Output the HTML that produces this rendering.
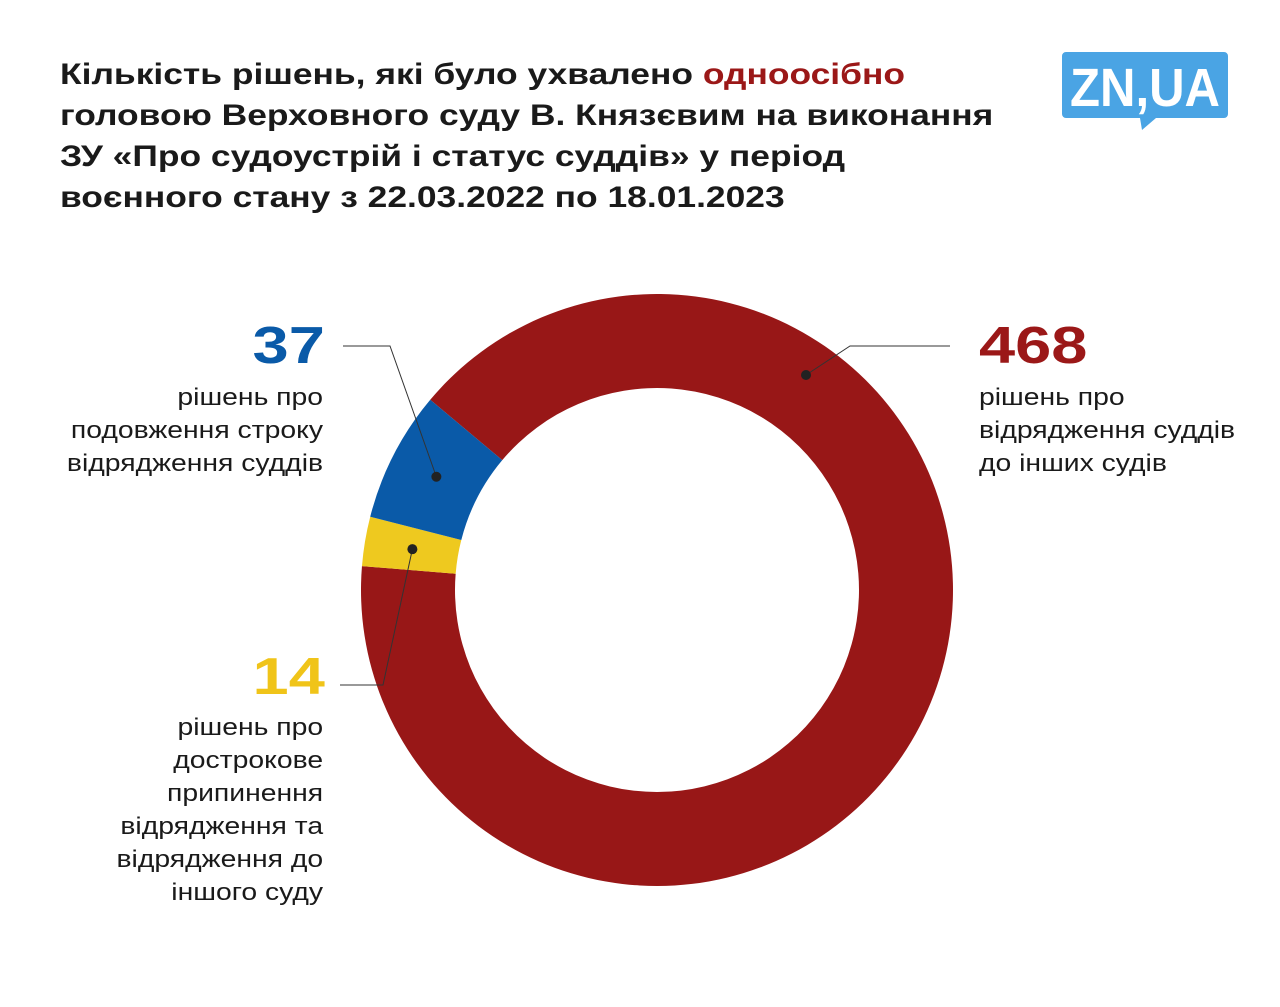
<!DOCTYPE html>
<html><head><meta charset="utf-8"><style>
body{margin:0;background:#fff;font-family:"Liberation Sans","DejaVu Sans",sans-serif;}
#wrap{position:relative;width:1280px;height:1007px;overflow:hidden;background:#fff}
.title{position:absolute;left:60px;top:54px;font-size:30px;font-weight:bold;line-height:41px;color:#1a1a1a;width:960px;transform:scaleX(1.18);transform-origin:left top;white-space:nowrap}
.num{position:absolute;font-size:52px;font-weight:bold;line-height:50px;white-space:nowrap}
.lbl{position:absolute;font-size:24px;line-height:33px;color:#1a1a1a;white-space:nowrap}
.r{transform-origin:right top}
.l{transform-origin:left top}
.num.r,.num.l{transform:scaleX(1.25)}
.lbl.r,.lbl.l{transform:scaleX(1.18)}
</style></head><body>
<div id="wrap">
<div class="title">Кількість рішень, які було ухвалено <span style="color:#9b1818">одноосібно</span><br>головою Верховного суду В. Князєвим на виконання<br>ЗУ «Про судоустрій і статус суддів» у період<br>воєнного стану з 22.03.2022 по 18.01.2023</div>
<svg style="position:absolute;left:1060px;top:50px" width="172" height="82">
<path d="M6 2H164a4 4 0 0 1 4 4V64a4 4 0 0 1-4 4H96L82 80L80 68H6a4 4 0 0 1-4-4V6a4 4 0 0 1 4-4z" fill="#4aa4e4"/>
<text x="85" y="56" text-anchor="middle" font-family="Liberation Sans, sans-serif" font-weight="bold" font-size="54" fill="#fff" textLength="150" lengthAdjust="spacingAndGlyphs">ZN,UA</text>
</svg>
<svg id="donut" style="position:absolute;left:0;top:0" width="1280" height="1007"></svg>
<div class="num r" style="right:955px;top:321px;color:#0a5aa8">37</div>
<div class="lbl r" style="right:957px;top:381px;text-align:right">рішень про<br>подовження строку<br>відрядження суддів</div>
<div class="num l" style="left:979px;top:321px;color:#9b1818">468</div>
<div class="lbl l" style="left:979px;top:381px">рішень про<br>відрядження суддів<br>до інших судів</div>
<div class="num r" style="right:955px;top:652px;color:#f0c419">14</div>
<div class="lbl r" style="right:957px;top:711px;text-align:right">рішень про<br>дострокове<br>припинення<br>відрядження та<br>відрядження до<br>іншого суду</div>
</div>
<script>
const categories=["secondment","termination","extension"];
const values=[468,14,37];
const colors=["#981717","#eec91f","#0a5aa8"];
const cx=657,cy=590,R=296,r=202,start=310;
const svg=document.getElementById('donut');
const NS="http://www.w3.org/2000/svg";
const total=values.reduce((a,b)=>a+b,0);
function pt(a,rad){const t=(a-90)*Math.PI/180;return [cx+rad*Math.cos(t),cy+rad*Math.sin(t)];}
let a=start;const mids=[];
values.forEach((v,i)=>{
 const sw=v/total*360,a2=a+sw,lg=sw>180?1:0;
 const p1=pt(a,R),p2=pt(a2,R),p3=pt(a2,r),p4=pt(a,r);
 const p=document.createElementNS(NS,'path');
 p.setAttribute('d',`M${p1}A${R} ${R} 0 ${lg} 1 ${p2}L${p3}A${r} ${r} 0 ${lg} 0 ${p4}Z`);
 p.setAttribute('fill',colors[i]);
 
 
 svg.appendChild(p);mids.push(a+sw/2);a=a2;});
function lead(pts,dot,name){
 const pl=document.createElementNS(NS,'polyline');
 pl.setAttribute('points',pts.map(q=>q.join(',')).join(' '));
 pl.setAttribute('fill','none');pl.setAttribute('stroke','#333');pl.setAttribute('stroke-width','1');
 
 
 svg.appendChild(pl);
 const c=document.createElementNS(NS,'circle');
 c.setAttribute('cx',dot[0]);c.setAttribute('cy',dot[1]);c.setAttribute('r',5);c.setAttribute('fill','#222');
 
 
 svg.appendChild(c);}
const d0=[806,375],d1=pt(mids[1],248),d2=pt(mids[2],248);
lead([[950,346],[850,346],d0],d0,'leader-secondment');
lead([[340,685],[383,685],d1],d1,'leader-termination');
lead([[343,346],[390,346],d2],d2,'leader-extension');
</script>
</body></html>
